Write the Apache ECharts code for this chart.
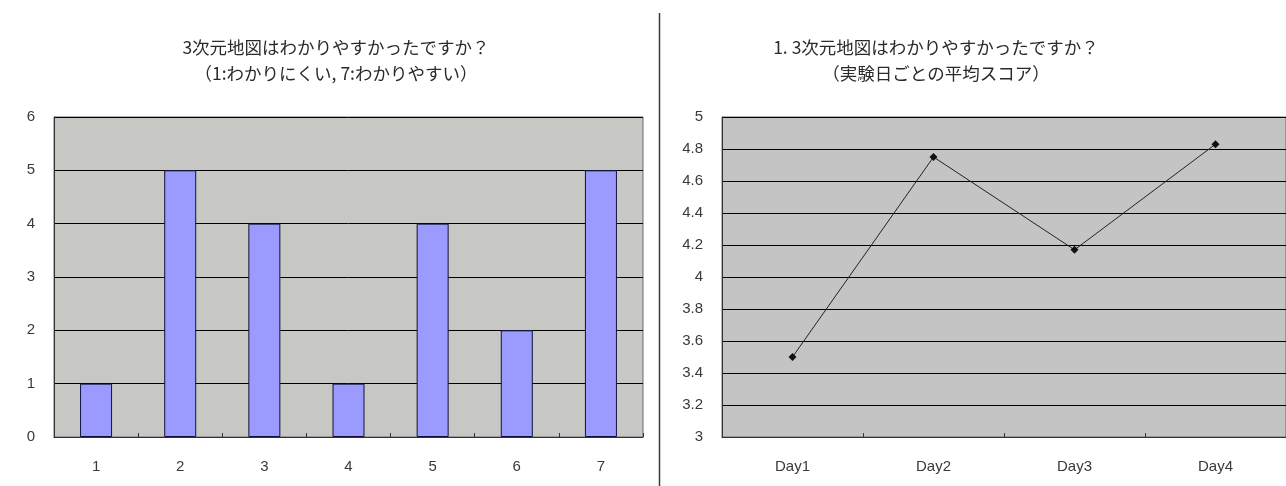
<!DOCTYPE html>
<html>
<head>
<meta charset="utf-8">
<script src="https://cdn.jsdelivr.net/npm/echarts@6/dist/echarts.min.js"></script>
<style>
  html, body { margin: 0; padding: 0; background: #ffffff; }
  #chart { width: 1286px; height: 486px; }
</style>
</head>
<body>
<div id="chart"></div>
<script>
// Survey: how easy was the 3D map to understand (score distribution)
const scoreCategories = ['1', '2', '3', '4', '5', '6', '7'];
const scoreCounts = [1, 5, 4, 1, 4, 2, 5];

// Mean score per experiment day
const dayCategories = ['Day1', 'Day2', 'Day3', 'Day4'];
const dayMeans = [3.5, 4.75, 4.17, 4.83];

const leftTitle = '3次元地図はわかりやすかったですか？\n（1:わかりにくい, 7:わかりやすい）';
const rightTitle = '1. 3次元地図はわかりやすかったですか？\n（実験日ごとの平均スコア）';

const FONT = '"Noto Sans CJK JP", "DejaVu Sans", sans-serif';
const LABEL_FONT = '"Liberation Sans", Arial, sans-serif';

const chart = echarts.init(document.getElementById('chart'), null, { renderer: 'canvas' });

const gridBase = {
  show: true,
  borderColor: '#6a6a6a',
  borderWidth: 1
};

const labelStyle = { fontFamily: LABEL_FONT, fontSize: 15, color: '#3a3a3a' };

chart.setOption({
  animation: false,
  backgroundColor: '#ffffff',
  title: [
    {
      text: leftTitle,
      left: 331, top: 29, textAlign: 'center',
      textStyle: { fontFamily: FONT, fontSize: 17.5, fontWeight: 'normal', color: '#2a2a2a', lineHeight: 26 }
    },
    {
      text: rightTitle,
      left: 931, top: 29, textAlign: 'center',
      textStyle: { fontFamily: FONT, fontSize: 17.5, fontWeight: 'normal', color: '#2a2a2a', lineHeight: 26 }
    }
  ],
  graphic: [
    {
      type: 'line',
      shape: { x1: 659.5, y1: 13, x2: 659.5, y2: 486 },
      style: { stroke: '#3a3a3a', lineWidth: 1.5 }
    }
  ],
  grid: [
    Object.assign({ left: 54, top: 117, width: 589, height: 320, backgroundColor: '#c7c8c3' }, gridBase),
    Object.assign({ left: 722, top: 117, width: 575, height: 320, backgroundColor: '#c4c4c4' }, gridBase)
  ],
  xAxis: [
    {
      type: 'category', gridIndex: 0, data: scoreCategories, boundaryGap: true,
      axisLine: { lineStyle: { color: '#333', width: 1 } },
      axisTick: { show: true, inside: true, length: 4, lineStyle: { color: '#333' } },
      axisLabel: Object.assign({ margin: 22 }, labelStyle)
    },
    {
      type: 'category', gridIndex: 1, data: dayCategories, boundaryGap: true,
      axisLine: { lineStyle: { color: '#333', width: 1 } },
      axisTick: { show: true, inside: true, length: 4, lineStyle: { color: '#333' } },
      axisLabel: Object.assign({ margin: 22 }, labelStyle)
    }
  ],
  yAxis: [
    {
      type: 'value', gridIndex: 0, min: 0, max: 6, interval: 1,
      axisLine: { show: true, lineStyle: { color: '#333' } },
      axisTick: { show: false },
      splitLine: { lineStyle: { color: '#000', width: 1 } },
      axisLabel: Object.assign({ margin: 19 }, labelStyle)
    },
    {
      type: 'value', gridIndex: 1, min: 3, max: 5, interval: 0.2,
      axisLine: { show: true, lineStyle: { color: '#333' } },
      axisTick: { show: false },
      splitLine: { lineStyle: { color: '#000', width: 1 } },
      axisLabel: Object.assign({ margin: 19 }, labelStyle)
    }
  ],
  series: [
    {
      type: 'bar', xAxisIndex: 0, yAxisIndex: 0,
      data: scoreCounts,
      barWidth: 32,
      itemStyle: { color: '#9b9bff', borderColor: '#10103a', borderWidth: 1 }
    },
    {
      type: 'line', xAxisIndex: 1, yAxisIndex: 1,
      data: dayMeans,
      symbol: 'diamond', symbolSize: 8,
      lineStyle: { color: '#222', width: 1 },
      itemStyle: { color: '#111' }
    }
  ]
});
</script>
</body>
</html>
